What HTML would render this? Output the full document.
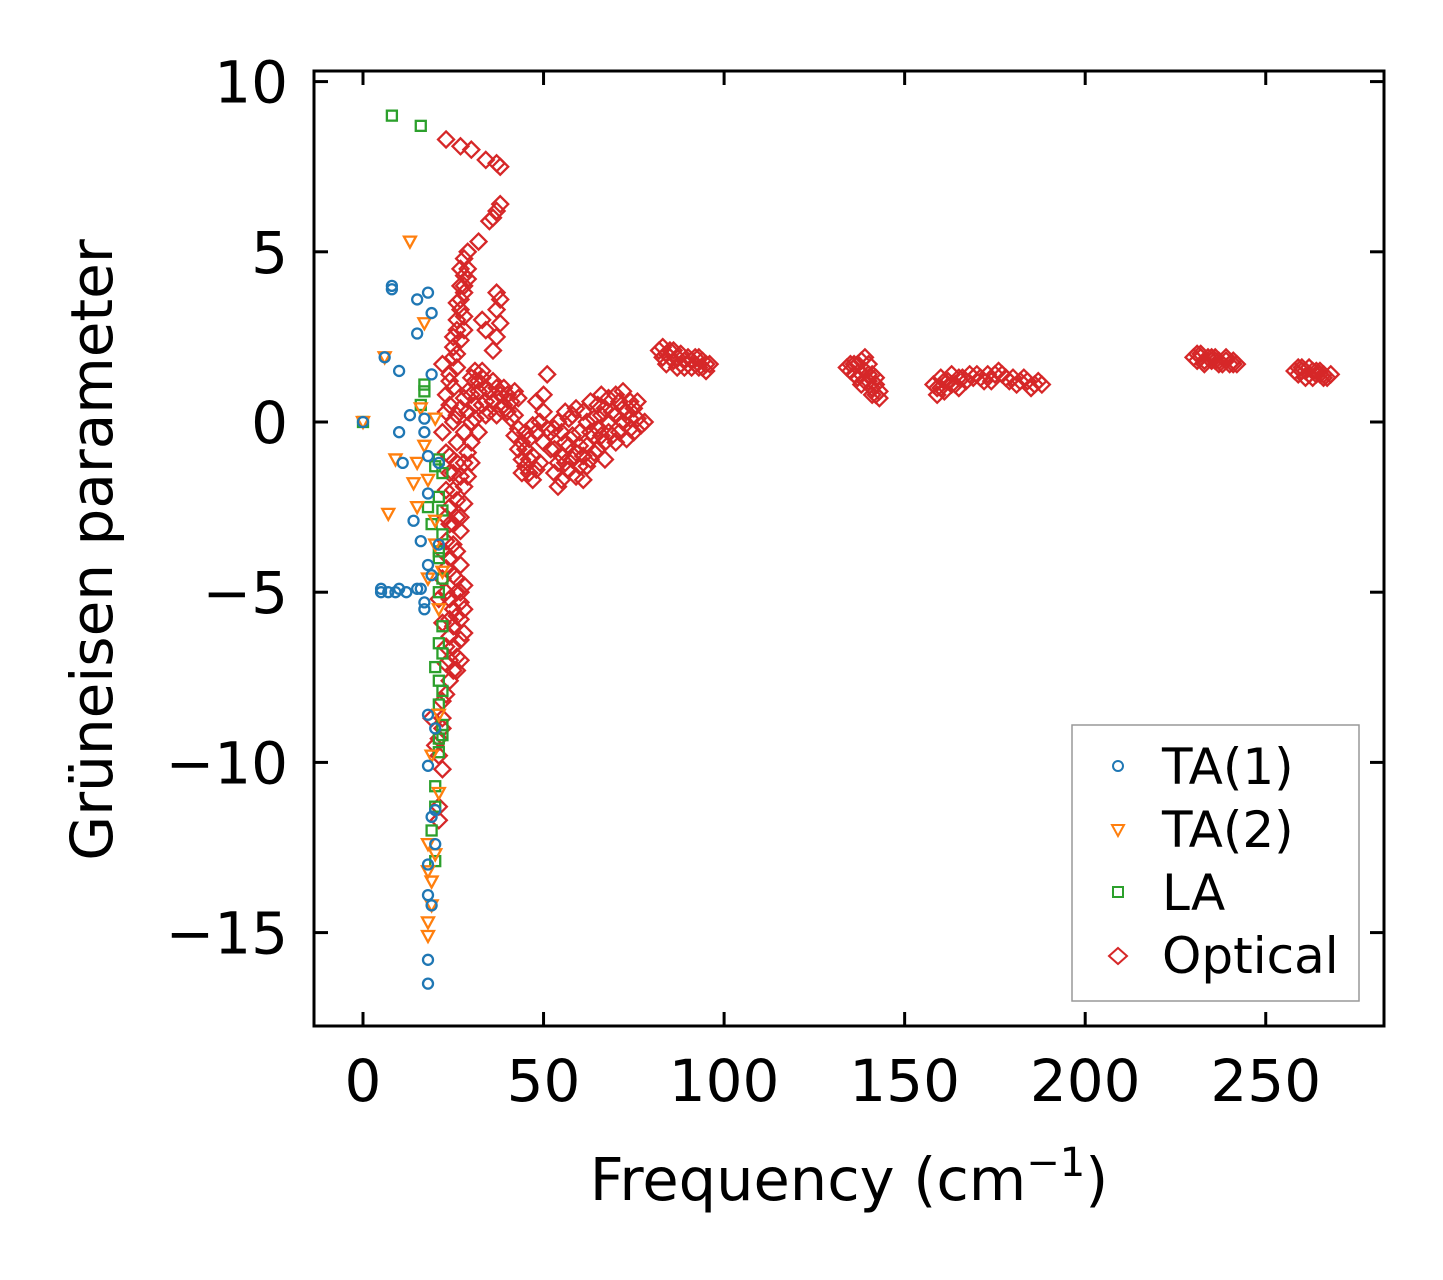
<!DOCTYPE html>
<html><head><meta charset="utf-8"><style>
html,body{margin:0;padding:0;background:#fff;}
svg text{font-family:"DejaVu Sans","Liberation Sans",sans-serif;fill:#000;}
</style></head><body>
<svg id="chart" width="1443" height="1275" viewBox="0 0 1443 1275" xmlns="http://www.w3.org/2000/svg">
<rect width="1443" height="1275" fill="#fff"/>
<g id="marks"></g>
<g id="axes"></g>
<text x="849" y="1200" font-size="59" text-anchor="middle">Frequency (cm<tspan font-size="40" dy="-24">−1</tspan><tspan dy="24">)</tspan></text>
<text transform="translate(112,550) rotate(-90)" font-size="58" text-anchor="middle">Grüneisen parameter</text>
<g>
<rect x="1072" y="725" width="287" height="276" fill="#fff" stroke="#999" stroke-width="1.5"/>
<circle cx="1118" cy="766" r="5" fill="none" stroke="#1f77b4" stroke-width="2"/>
<text x="1162" y="784" font-size="50">TA(1)</text>
<path d="M1112,825 L1124,825 L1118,836 Z" fill="none" stroke="#ff7f0e" stroke-width="2"/>
<text x="1162" y="847" font-size="50">TA(2)</text>
<rect x="1113" y="887" width="10" height="10" fill="none" stroke="#2ca02c" stroke-width="2"/>
<text x="1162" y="910" font-size="50">LA</text>
<path d="M1118,948 L1127,956 L1118,964 L1109,956 Z" fill="none" stroke="#d62728" stroke-width="2"/>
<text x="1162" y="973" font-size="50">Optical</text>
</g>
</svg>
<script>
const xTicks=[0,50,100,150,200,250];
const yTicks=[10,5,0,-5,-10,-15];
const yTickLabels=["10","5","0","−5","−10","−15"];
const ta1=[[0,0],[5,-4.9],[5,-5],[6,1.9],[8,4],[8,3.9],[9,-5],[10,-4.9],[10,-0.3],[10,1.5],[11,-1.2],[12,-5],[13,0.2],[14,-2.9],[15,3.6],[15,2.6],[16,-3.5],[16,-4.9],[17,-5.5],[17,-5.3],[17,0.1],[17,-0.3],[18,3.8],[18,-1],[18,-2.1],[18,-4.2],[18,-8.6],[18,-10.1],[18,-13.9],[18,-15.8],[18,-16.5],[19,3.2],[19,1.4],[19,-14.2],[19,-11.6],[20,-9],[20,-11.4],[20,-12.4],[21,-3.6],[21,-1.2],[19,-4.5],[18,-13],[7,-5],[15,-4.9]];
const ta2=[[0,0],[6,1.9],[7,-2.7],[9,-1.1],[13,5.3],[14,-1.8],[15,-1.2],[15,-2.5],[16,0.4],[17,-0.7],[17,2.9],[18,-1.7],[18,-4.6],[18,-12.4],[18,-13.2],[18,-14.7],[18,-15.1],[19,-13.5],[19,-9.8],[20,-2.9],[20,-3.6],[20,0.1],[21,-5.5],[21,-8.6],[21,-10.9],[20,-12.7],[22,-4.4],[19,-14.2]];
const la=[[0,0],[8,9],[16,8.7],[16,0.5],[17,1.1],[17,0.9],[18,-2.5],[19,-3],[20,-1.3],[20,-7.2],[20,-10.7],[20,-11.3],[20,-12.9],[19,-12],[21,-1.1],[21,-2.2],[21,-4],[21,-5],[21,-6.5],[21,-7.6],[21,-8.3],[21,-9.3],[21,-9.7],[22,-3.3],[22,-2.6],[22,-4.6],[22,-6],[22,-6.8],[22,-7.9],[22,-8.9],[22,-9.2],[21,-3.8],[22,-1.5]];
const optical=[[23,8.3],[27,8.1],[30,8],[34,7.7],[37,7.6],[38,7.5],
[38,6.4],[37,6.2],[36,6],[35,5.9],[32,5.3],[29,5],[28,4.8],[27,4.5],[28,4.3],[29,4.2],[27,4],[27,3.6],[27,3.3],[26,3],[26,2.7],[25,2.5],[25,2.2],[25,1.9],[26,1.6],[24,1.4],[22,1.7],[24,1.2],[28,3.8],[28,3.1],[26,3.5],[29,4.5],[28,4.0],[27,2.4],[26,2.0],[28,2.7],
[37,3.8],[38,3.6],[37,3.3],[38,2.9],[37,2.5],[36,2.1],[34,2.7],[33,3],[33,1.5],[31,1.2],[30,1.3],
[23,0.8],[23,0.3],[22,-0.3],[23,-0.9],[24,-1.5],[23,-2],[24,-2.5],[25,-3],[23,-3.5],[24,-4],[25,-4.5],[26,-5],[27,-5.3],[26,-5.7],[25,-6],[24,-6.3],[23,-6.6],[26,-6.9],[25,-7.3],[24,-7.6],[27,-4.2],[27,-3.2],[26,-2.3],[27,-1.6],[28,-1.9],[28,-1.2],[26,-0.6],[25,0],[27,0.4],[28,0.7],[22,-3.8],[22,-4.6],[21,-5.2],[22,-5.9],[23,-7.1],[22,-8.2],[22,-8.7],[21,-9.3],[20,-9.5],[21,-9.8],[22,-10.2],[21,-11.3],[21,-11.7],[19,-8.7],[22,-9],[23,-8],[24,-7],[27,-5.8],[28,-4.8],[26,-4.6],[25,-3.6],[26,-1.2],[24,0.5],[25,1],[26,0.2],[24,-5.2],[25,-5.5],[23,-5],[27,-6.4],[26,-3.8],[25,-2],[24,-3],[23,-4.3],[24,-5.8],[25,-6.6],[23,-2.8],[24,-1],[25,-1.5],[26,-2.8],[27,-5],[28,-5.5],[28,-6.2],[27,-7],[26,-7.3],
[29,0.3],[30,0.8],[31,0.1],[32,-0.3],[33,0.5],[34,1],[35,0.9],[36,0.6],[37,0.2],[38,0.8],[39,0.5],[40,0.3],[41,0.6],[42,0.2],[30,-0.6],[29,-0.9],[31,1.5],[33,1.3],[28,-0.3],[35,0.3],[43,0.7],[42,0.9],[30,-1.2],[29,-1.6],[28,-2.4],[27,-2.8],[32,0.9],[34,0.2],[36,1.2],[39,1.0],[31,0.5],[29,0.9],[30,0],[32,1.2],[34,0.6],[37,1.0],[40,0.8],[41,0.1],[38,0.4],
[42,-0.4],[43,-0.8],[44,-1.1],[45,-1.3],[46,-1.5],[47,-1.7],[48,-1.4],[43,-0.2],[44,-0.6],[45,-0.8],[47,-1],[49,-1.2],[46,-0.5],[48,-0.3],[49,0],[50,0.3],[51,1.4],[50,-0.6],[52,-0.3],[52,-0.8],[48,0.6],[50,0.8],[45,-0.3],[47,-0.1],[44,-1.5],[46,-1.1],
[53,-1.5],[54,-1.9],[55,-1.7],[56,-1.2],[57,-0.7],[58,-0.4],[59,-0.9],[60,-1.3],[61,-1.0],[62,-0.7],[63,-0.3],[64,0.1],[65,0.5],[66,0.8],[67,0.4],[68,0],[69,-0.4],[70,-0.6],[71,-0.3],[72,0],[73,0.3],[74,0.6],[75,0.4],[76,0.1],[77,-0.1],[78,0],[70,0.8],[72,0.9],[68,0.7],[66,0.2],[64,-0.4],[62,0],[60,-0.3],[58,0.2],[56,0.3],[55,-0.3],[53,-0.8],[54,0],[57,0.1],[59,0.4],[61,0.3],[63,0.6],[65,-0.2],[67,-0.6],[69,0.3],[71,0.6],[73,-0.5],[75,-0.3],[76,0.6],[55,-1],[57,-1.4],[59,-1.6],[61,-1.7],[63,-1.1],[65,-0.8],[67,-1.1],[53,-0.2],[51,-0.2],[58,-1.1],[60,-0.7],[62,-1.3],[64,-0.9],[66,-0.4],[68,-0.3],[70,0.2],[72,0.4],[74,0.1],[74,-0.2],[56,-0.6],[54,-1.2],
[82,2.1],[83,2.2],[84,2.0],[85,1.9],[86,1.8],[87,1.9],[88,1.7],[89,1.8],[90,1.7],[91,1.8],[92,1.7],[93,1.6],[94,1.8],[95,1.7],[96,1.7],[84,1.7],[86,2.1],[88,2.0],[90,1.9],[92,1.9],[83,1.9],[85,2.1],[87,1.6],[89,1.6],[91,1.6],[93,1.9],[95,1.5],[94,1.6],
[134,1.6],[135,1.5],[136,1.4],[137,1.3],[138,1.8],[139,1.9],[139,1.5],[140,1.2],[140,1.7],[141,1.0],[141,1.4],[142,0.8],[142,1.1],[143,0.7],[143,0.9],[137,1.7],[138,1.1],[136,1.7],[135,1.7],[138,1.4],[139,1.2],[140,1.4],[141,0.8],[142,1.3],
[158,1.1],[159,0.8],[160,1.0],[160,1.3],[161,0.9],[162,1.2],[163,1.4],[164,1.1],[165,1.3],[167,1.2],[169,1.3],[171,1.3],[173,1.4],[175,1.4],[177,1.4],[178,1.3],[180,1.3],[182,1.2],[184,1.2],[186,1.1],[188,1.1],[174,1.2],[176,1.5],[179,1.2],[183,1.3],[161,1.2],[165,1.0],[168,1.4],[166,1.3],[170,1.4],[172,1.2],[181,1.1],[185,1.0],[187,1.2],[159,1.0],[163,1.1],
[230,1.9],[231,1.8],[232,1.9],[233,1.8],[234,1.9],[235,1.8],[236,1.8],[237,1.8],[238,1.7],[239,1.8],[240,1.7],[241,1.8],[242,1.7],[232,2.0],[236,1.9],[231,2.0],[233,1.7],[235,1.9],[237,1.7],[239,1.9],[241,1.7],
[258,1.5],[259,1.4],[260,1.5],[261,1.5],[262,1.4],[263,1.5],[264,1.4],[265,1.4],[266,1.4],[267,1.3],[268,1.4],[260,1.6],[263,1.3],[259,1.6],[261,1.3],[262,1.6],[264,1.5],[266,1.3],[265,1.5]];

const L=314,R=1384,T=71,B=1026;
function sx(v){return 363+v*3.611;}
function sy(v){return 422-v*34.04;}
const NS="http://www.w3.org/2000/svg";
const marks=document.getElementById('marks');
const axes=document.getElementById('axes');
function mk(tag,attrs,parent){const e=document.createElementNS(NS,tag);for(const k in attrs)e.setAttribute(k,attrs[k]);parent.appendChild(e);return e;}

function drawSeries(arr,kind,color,name){
  const g=mk('g',{},marks);
  
  
  arr.forEach(p=>{
    const x=sx(p[0]),y=sy(p[1]);let e;
    if(kind==='circle') e=mk('circle',{cx:x,cy:y,r:5},g);
    else if(kind==='tri') e=mk('path',{d:`M${x-6},${y-5}L${x+6},${y-5}L${x},${y+6}Z`},g);
    else if(kind==='square') e=mk('rect',{x:x-5,y:y-5,width:10,height:10},g);
    else e=mk('path',{d:`M${x},${y-8}L${x+8},${y}L${x},${y+8}L${x-8},${y}Z`},g);
    e.setAttribute('fill','none');e.setAttribute('stroke',color);e.setAttribute('stroke-width','2.3');
    
    
  });
}
drawSeries(optical,'diamond','#d62728','optical');
drawSeries(la,'square','#2ca02c','la');
drawSeries(ta2,'tri','#ff7f0e','ta2');
drawSeries(ta1,'circle','#1f77b4','ta1');

const frame=mk('rect',{x:L,y:T,width:R-L,height:B-T,fill:'none',stroke:'#000','stroke-width':3},axes);


xTicks.forEach(v=>{
  const x=sx(v);
  mk('line',{x1:x,y1:B,x2:x,y2:B-14,stroke:'#000','stroke-width':3},axes);
  mk('line',{x1:x,y1:T,x2:x,y2:T+14,stroke:'#000','stroke-width':3},axes);
  const t=mk('text',{x:x,y:1101,'font-size':58,'text-anchor':'middle'},axes);
  t.textContent=String(v);
  
  
});
yTicks.forEach((v,i)=>{
  const y=sy(v);
  mk('line',{x1:L,y1:y,x2:L+14,y2:y,stroke:'#000','stroke-width':3},axes);
  mk('line',{x1:R,y1:y,x2:R-14,y2:y,stroke:'#000','stroke-width':3},axes);
  const t=mk('text',{x:288,y:y+21,'font-size':58,'text-anchor':'end'},axes);
  t.textContent=yTickLabels[i];
  
  
});
</script>
</body></html>
